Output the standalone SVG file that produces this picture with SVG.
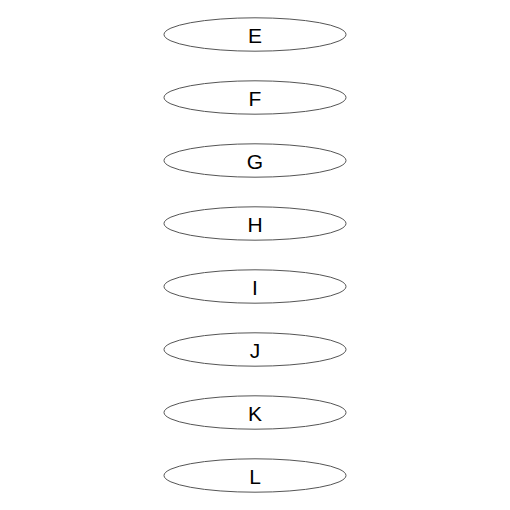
<svg xmlns="http://www.w3.org/2000/svg" width="510" height="510" viewBox="0 0 510 510">
<style>
.n ellipse{fill:#fff;stroke:#555;stroke-width:1}
.n text{font-family:"Liberation Sans",Arial,sans-serif;font-size:21px;fill:#000;text-anchor:middle}
</style>
<rect width="510" height="510" fill="#fff"/>
<g id="connectors"></g>
<g id="E" class="n"><ellipse cx="255" cy="34.5" rx="91" ry="16.7"/><text x="255" y="42.5">E</text></g>
<g id="F" class="n"><ellipse cx="255" cy="97.5" rx="91" ry="16.7"/><text x="255" y="105.5">F</text></g>
<g id="G" class="n"><ellipse cx="255" cy="160.5" rx="91" ry="16.7"/><text x="255" y="168.5">G</text></g>
<g id="H" class="n"><ellipse cx="255" cy="223.5" rx="91" ry="16.7"/><text x="255" y="231.5">H</text></g>
<g id="I" class="n"><ellipse cx="255" cy="286.5" rx="91" ry="16.7"/><text x="255" y="294.5">I</text></g>
<g id="J" class="n"><ellipse cx="255" cy="349.5" rx="91" ry="16.7"/><text x="255" y="357.5">J</text></g>
<g id="K" class="n"><ellipse cx="255" cy="412.5" rx="91" ry="16.7"/><text x="255" y="420.5">K</text></g>
<g id="L" class="n"><ellipse cx="255" cy="475.5" rx="91" ry="16.7"/><text x="255" y="483.5">L</text></g>
</svg>
